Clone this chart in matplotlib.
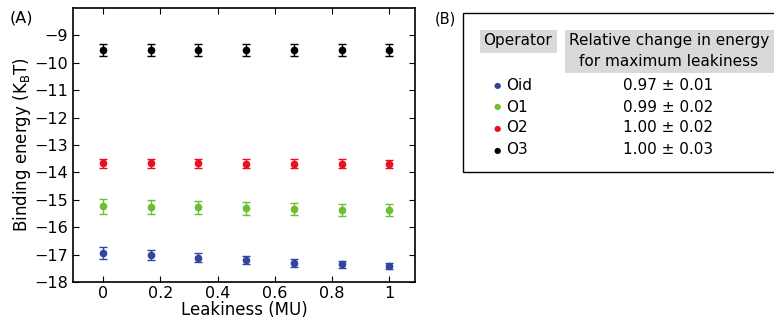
import matplotlib
matplotlib.use('Agg')
import matplotlib.pyplot as plt
from matplotlib.patches import Rectangle

# leakiness values (MU)
leak = [0, 1/6, 2/6, 3/6, 4/6, 5/6, 1]

# binding energies (kBT) and error bars per operator
e_oid = [-16.93, -17.01, -17.11, -17.20, -17.31, -17.36, -17.42]
s_oid = [0.22, 0.19, 0.16, 0.15, 0.14, 0.13, 0.12]
e_o1 = [-15.23, -15.25, -15.28, -15.31, -15.33, -15.36, -15.38]
s_o1 = [0.27, 0.26, 0.25, 0.24, 0.23, 0.22, 0.21]
e_o2 = [-13.67, -13.67, -13.67, -13.68, -13.68, -13.68, -13.69]
s_o2 = [0.16, 0.16, 0.16, 0.16, 0.16, 0.16, 0.16]
e_o3 = [-9.54, -9.54, -9.54, -9.54, -9.54, -9.54, -9.54]
s_o3 = [0.22, 0.22, 0.22, 0.22, 0.22, 0.22, 0.22]

operators = ['Oid', 'O1', 'O2', 'O3']
rel_change = ['0.97 \u00b1 0.01', '0.99 \u00b1 0.02', '1.00 \u00b1 0.02', '1.00 \u00b1 0.03']
colors = ['#3344a0', '#6cbf2e', '#e8101f', '#000000']

plt.rcParams['font.family'] = ['DejaVu Sans']

fig = plt.figure(figsize=(7.74, 3.18), dpi=100)
ax = fig.add_axes([0.0943, 0.1132, 0.4419, 0.8616])

series = [(e_oid, s_oid), (e_o1, s_o1), (e_o2, s_o2), (e_o3, s_o3)]
for (e, s), c in zip(series, colors):
    ax.errorbar(leak, e, yerr=s, fmt='o', color=c, ms=4.5, elinewidth=1,
                capsize=3, capthick=1)

ax.set_xlim(-0.105, 1.09)
ax.set_ylim(-18, -8)
ax.set_xticks([0, 0.2, 0.4, 0.6, 0.8, 1])
ax.set_xticklabels(['0', '0.2', '0.4', '0.6', '0.8', '1'])
ax.set_yticks(range(-18, -8))
ax.tick_params(direction='in', top=True, right=True, labelsize=11.5, length=4)
ax.tick_params(axis='x', pad=3)
for sp in ax.spines.values():
    sp.set_linewidth(1.2)
ax.set_xlabel('Leakiness (MU)', fontsize=12, labelpad=0)
ax.set_ylabel('Binding energy (K$_\\mathrm{B}$T)', fontsize=12, labelpad=1)

fig.text(10 / 774, 1 - 18 / 318, '(A)', fontsize=11.5, va='center', ha='left')
fig.text(435 / 774, 1 - 19 / 318, '(B)', fontsize=10.5, va='center', ha='left')

# panel B box
W, H = 774, 318
fig.patches.append(Rectangle((463 / W, 1 - 172 / H), 400 / W, 159 / H,
                             transform=fig.transFigure, fill=False,
                             edgecolor='black', linewidth=1))
fig.patches.append(Rectangle((480 / W, 1 - 53 / H), 77 / W, 23 / H,
                             transform=fig.transFigure, facecolor='#d9d9d9',
                             edgecolor='none'))
fig.patches.append(Rectangle((565 / W, 1 - 73 / H), 220 / W, 43 / H,
                             transform=fig.transFigure, facecolor='#d9d9d9',
                             edgecolor='none'))
fig.text(518 / W, 1 - 40 / H, 'Operator', fontsize=11, ha='center', va='center')
fig.text(669 / W, 1 - 40 / H, 'Relative change in energy', fontsize=11,
         ha='center', va='center')
fig.text(669 / W, 1 - 61 / H, 'for maximum leakiness', fontsize=11,
         ha='center', va='center')

row_y = [85, 107, 128, 150]
for name, val, c, y in zip(operators, rel_change, colors, row_y):
    fig.text(497 / W, 1 - y / H, '\u25cf', color=c, fontsize=6, ha='center', va='center')
    fig.text(506 / W, 1 - y / H, name, fontsize=11, ha='left', va='center')
    fig.text(668 / W, 1 - y / H, val, fontsize=11, ha='center', va='center')

fig.savefig('out.png', dpi=100)
